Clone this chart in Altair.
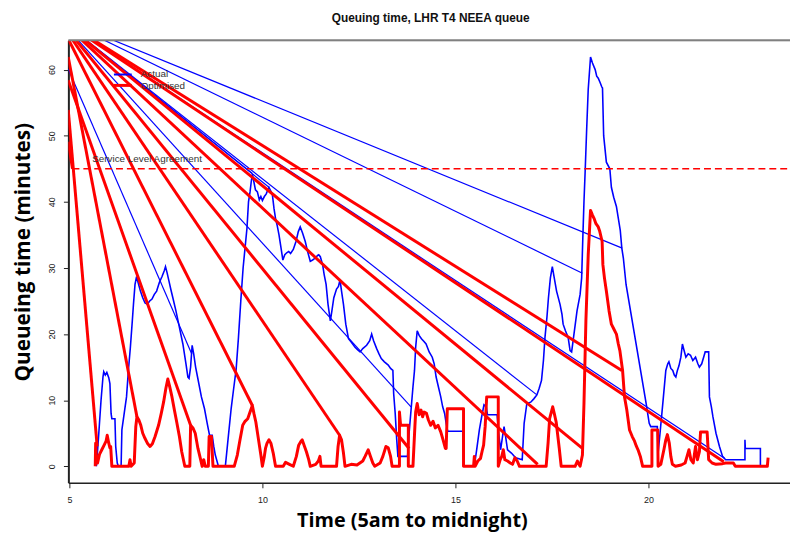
import altair as alt
import pandas as pd

# ---------------- data ----------------
act_x = [5.70,5.75,5.82,5.87,5.89,5.93,5.97,6.02,6.05,6.08,6.10,6.18,6.20,6.24,6.27,6.34,6.36,6.42,6.48,6.53,
         6.58,6.63,6.66,6.70,6.74,6.78,6.84,6.90,6.96,7.02,7.08,7.14,7.20,7.26,7.33,7.40,7.46,7.49,7.53,7.58,
         7.63,7.68,7.76,7.85,7.94,8.02,8.07,8.10,8.14,8.18,8.22,8.27,8.33,8.42,8.50,8.57,8.63,8.70,8.74,8.78,
         8.86,9.04,9.10,9.19,9.25,9.32,9.38,9.44,9.50,9.55,9.60,9.64,9.68,9.71,9.74,9.78,9.82,9.87,9.92,9.96,
         10.00,10.05,10.10,10.14,10.17,10.22,10.26,10.30,10.34,10.38,10.43,10.47,10.53,10.58,10.63,10.68,10.73,10.80,10.87,10.93,
         10.98,11.04,11.11,11.17,11.24,11.30,11.37,11.43,11.46,11.50,11.56,11.60,11.65,11.70,11.76,11.80,11.85,11.92,11.97,12.01,
         12.05,12.10,12.16,12.23,12.30,12.40,12.47,12.53,12.60,12.70,12.78,12.83,12.88,12.96,13.02,13.08,13.16,13.26,13.32,13.38,
         13.40,13.44,13.48,13.51,13.76,13.80,13.85,13.90,13.94,13.97,14.01,14.06,14.12,14.18,14.24,14.32,14.40,14.45,14.50,14.56,
         14.62,14.67,14.72,14.76,14.80,15.19,15.21,15.49,15.55,15.62,15.68,15.74,15.80,15.83,16.08,16.12,16.17,16.22,16.26,16.30,
         16.35,16.45,16.56,16.73,16.78,16.85,16.95,17.03,17.11,17.17,17.23,17.28,17.32,17.37,17.41,17.46,17.51,17.56,17.62,17.71,
         17.76,17.79,17.85,17.92,17.97,18.01,18.06,18.15,18.23,18.27,18.30,18.33,18.36,18.40,18.44,18.50,18.55,18.62,18.66,18.70,
         18.75,18.79,18.81,18.84,18.91,19.00,19.04,19.10,19.17,19.27,19.31,19.35,19.42,19.55,19.68,19.81,19.94,20.02,20.06,20.23,
         20.25,20.30,20.38,20.45,20.50,20.53,20.58,20.63,20.67,20.71,20.75,20.79,20.84,20.88,20.92,20.97,21.03,21.09,21.15,21.22,
         21.28,21.32,21.38,21.43,21.47,21.56,21.58,21.63,21.67,21.75,21.84,21.92,22.00,22.48,22.50,22.50,22.51,22.90,22.90]
act_y = [0,4,10,13.5,14.3,13.8,14.2,13.4,12.5,8,7.2,7.2,3,0.5,0,0,5.5,8,10.5,14.6,
         18,22,24.5,27.5,28.7,27.8,26.5,25.5,24.7,24.5,25,25.3,26,26.5,27.8,28.7,29.6,30.2,29.3,28,
         26.7,25.5,23.5,21,18.5,15.5,13.5,13.3,15,18.3,17,15,13.2,10.5,8.7,6.5,4.7,4.7,3,1.7,
         0,0,3.5,8.7,11.5,14.7,19.5,25,30,33,36,40,41.5,43,44.2,43,41.8,41.5,40.3,40.8,
         40.2,40.8,41.2,41.8,42.2,41.6,41,39,37.5,36.5,35,33.5,31.2,32,32.3,32.5,32.2,32.8,34,35.5,
         36.2,35.3,34,32.5,31,31.2,31.5,31.9,32,31.7,30.5,29,27.5,24.5,22,23.5,25.5,26.8,27.2,28.2,
         26.5,24.5,21.5,19.3,18.8,18,17.6,17.3,17.8,18.3,19,20,19,17.8,17,16.3,15.8,15.3,14.8,14.5,
         11,8,4,1.5,1.5,5,8.5,12,14.5,18,20.5,19.8,19.3,18.9,18.5,17.3,16.5,15.5,13.5,12,
         10.5,9,8,6.5,5.3,5.3,0,0,2.5,5.5,7.5,9.3,9,7.8,7.8,5,2.5,4.5,6,4.5,
         2.5,2,1.3,1,6.5,9.5,9.7,10.2,10.8,11.8,13,16,19.5,22.5,25.5,28.5,30.2,28.5,26.5,24.5,
         23,21.5,20.5,19.5,17.5,17.3,19.5,23.5,26,28.5,34.5,40,44.5,51,57,61.9,61,60,59,58.7,
         58,57.4,57.2,50,46,45,42.2,40.7,39.3,35.7,33,31.5,27.5,23,18.5,14,9.5,6.5,6,6,
         2,5,10,14.5,15.5,15.8,14.8,14.5,13.8,13.5,14.5,15.2,16.5,18.5,17.6,16.5,17,16.8,16,16.5,
         15.5,15,15.5,16.5,17.3,17.3,10.5,9,7.5,5,3,1.5,1,1,1,4,2.7,2.7,0]

opt_x = [5.67,5.68,5.70,5.73,5.78,5.84,5.90,5.95,5.98,6.02,6.05,6.07,6.10,6.54,6.57,6.60,6.68,6.72,6.75,6.80,
         6.85,6.90,6.96,7.03,7.09,7.15,7.22,7.31,7.38,7.44,7.50,7.55,7.60,7.65,7.72,7.78,7.85,7.91,7.99,8.12,
         8.14,8.20,8.26,8.33,8.40,8.44,8.48,8.52,8.60,8.62,8.68,8.72,9.27,9.35,9.42,9.49,9.55,9.62,9.68,9.74,
         9.78,9.83,9.90,9.96,10.00,10.05,10.08,10.12,10.17,10.22,10.28,10.34,10.54,10.60,10.70,10.80,10.88,10.94,11.00,11.03,
         11.08,11.14,11.20,11.24,11.38,11.45,11.49,11.52,11.92,11.96,12.00,12.05,12.10,12.14,12.30,12.45,12.60,12.66,12.74,12.80,
         12.86,12.91,13.05,13.12,13.20,13.26,13.32,13.36,13.55,13.55,13.58,13.78,13.78,13.90,13.95,13.97,14.01,14.06,14.11,14.15,
         14.19,14.25,14.30,14.36,14.42,14.48,14.55,14.62,14.68,14.74,14.76,14.79,15.21,15.21,15.47,15.49,15.51,15.58,15.65,15.70,
         15.73,15.77,15.81,16.11,16.11,16.16,16.20,16.24,16.28,16.35,16.42,16.48,16.54,16.60,16.66,17.35,17.40,17.44,17.52,17.56,
         17.61,17.69,17.74,18.10,18.16,18.20,18.23,18.29,18.33,18.38,18.44,18.50,18.55,18.59,18.64,18.70,18.74,18.80,18.82,18.86,
         18.91,18.98,19.04,19.10,19.17,19.22,19.26,19.33,19.38,19.44,19.51,19.58,19.64,19.69,19.73,19.79,19.85,20.09,20.09,20.24,
         20.25,20.32,20.40,20.45,20.49,20.54,20.58,20.62,20.70,20.85,20.95,21.00,21.05,21.10,21.16,21.22,21.27,21.32,21.35,21.52,
         21.56,21.65,21.75,21.92,22.00,22.20,22.25,23.08,23.10]
opt_y = [0,3.5,1,0.5,1.8,2.5,3.2,3.8,4.7,3.5,2.8,3,0,0,1,0,0.5,6,7.5,7,
         6.2,5,4.2,3.4,3,3.4,4.5,6.2,8,9.7,11.8,13.2,12,10.7,8.5,6.7,4.5,2.2,0,0,
         6.2,5.8,5,2.7,1,0,1,0,0,4.5,4.5,0,0,1.7,4,6.2,6.8,7.2,8.2,9.2,
         8,6.7,4,1.7,0,1.5,2.7,3.5,4,3.5,2,0,0,0.6,0.3,0,1.5,3.2,3.8,4,
         3.2,2.2,1,0,0.3,0.8,1.5,0,0,3,4.7,4,2,0,0.3,0.2,0.8,1.5,2.5,1.5,
         0.5,0,0.5,1.5,3,2.8,1.5,0,0,8.2,6.2,6.2,0,0,6,8.2,9.5,7.8,8.5,7.5,
         8.2,8,7,6.2,6.8,5.8,6.2,5.2,4,2.7,2.7,8.7,8.7,0,0,1.5,0,0.8,1.2,2.5,
         3.2,6,10.5,10.5,0,1,1.5,2.5,1,0.8,0.5,0.3,1.3,0.8,0,0,3.5,7.2,9,8,
         6.7,2.7,0,0,0.8,0.3,0,1.7,9.5,22,32,38.7,38,37.5,36.7,36.2,35.5,34,30.5,28.5,
         26.5,23.5,21.5,20.8,20,18.5,17.5,14.5,10.5,8.5,5.5,4.5,3.8,3,2.5,1.5,0,0,5.5,5.5,
         0,0.3,2.5,4,4.8,3.5,1.5,0.3,0,0.2,0.5,1.5,2.5,1,0.5,3,1,2.2,5.2,5.2,
         1,0.5,0.3,0.4,0.5,0.5,0,0,1.3]

# stray straight segments: start point (off the plot / on its border) -> end point on the curve
act_seg_x0 = [4.69, 4.69, 4.69, 4.69, 4.97, 4.69, 4.69, 4.69]
act_seg_y0 = [67.9, 67.9, 67.9, 67.9, 60.1, 67.9, 67.9, 67.9]
act_seg_x1 = [19.32, 18.29, 9.74, 10.17, 8.17, 13.85, 17.11, 21.97]
act_seg_y1 = [33.0, 29.2, 44.3, 42.2, 17.0, 9.0, 10.8, 1.2]

opt_seg_x0 = [4.69, 4.69, 4.69, 4.69, 4.69, 4.69, 4.97, 4.97, 4.69, 4.97, 4.97]
opt_seg_y0 = [67.9, 67.9, 67.9, 67.9, 67.9, 67.9, 61.9, 58.4, 67.9, 53.9, 49.1]
opt_seg_x1 = [19.31, 21.95, 18.29, 17.13, 13.80, 12.00, 6.75, 8.14, 9.74, 5.72, 5.08]
opt_seg_y1 = [14.5, 0.7, 2.7, 0.3, 2.7, 4.7, 7.5, 6.2, 9.2, 3.0, 45.0]

sla_value = 45
x_ticks = [5, 10, 15, 20]
y_ticks = [0, 10, 20, 30, 40, 50, 60]
x_domain = [4.974, 23.667]
y_domain = [-2.5, 64.42]

title_text = "Queuing time, LHR T4 NEEA queue"
x_title = "Time (5am to midnight)"
y_title = "Queueing time (minutes)"
legend_labels = ["Actual", "Optimised"]
sla_label = "Service Level Agreement"

BLUE = "#0000ff"
RED = "#ff0000"
W, H = 729, 447

# ---------------- build ----------------
act = pd.DataFrame({"x": act_x, "y": act_y, "i": range(len(act_x))})
opt = pd.DataFrame({"x": opt_x, "y": opt_y, "i": range(len(opt_x))})
act_seg = pd.DataFrame({"x": act_seg_x0, "y": act_seg_y0, "x2": act_seg_x1, "y2": act_seg_y1})
opt_seg = pd.DataFrame({"x": opt_seg_x0, "y": opt_seg_y0, "x2": opt_seg_x1, "y2": opt_seg_y1})

xs = alt.Scale(domain=x_domain, nice=False, zero=False)
ys = alt.Scale(domain=y_domain, nice=False, zero=False)

x_axis = alt.Axis(values=x_ticks, title=None, grid=False, labelFontSize=9, labelFont="Liberation Sans",
                  labelColor="#222", tickColor="#222", tickSize=5, domainColor="#222", domainWidth=1.5,
                  labelPadding=8, labelFlush=False)
y_axis = alt.Axis(values=y_ticks, title=None, grid=False, labelFontSize=9, labelFont="Liberation Sans",
                  labelColor="#222", tickColor="#222", tickSize=5, domainColor="#222", domainWidth=2,
                  labelAngle=270, labelAlign="center", labelBaseline="bottom", labelPadding=7)

base_x = alt.X("x:Q", scale=xs, axis=x_axis)
base_y = alt.Y("y:Q", scale=ys, axis=y_axis)

act_line = alt.Chart(act).mark_line(color=BLUE, strokeWidth=1.6, clip=True).encode(
    x=base_x, y=base_y, order="i:Q")
act_rules = alt.Chart(act_seg).mark_rule(color=BLUE, strokeWidth=1.2, clip=True).encode(
    x=alt.X("x:Q", scale=xs), y=alt.Y("y:Q", scale=ys), x2="x2:Q", y2="y2:Q")
opt_line = alt.Chart(opt).mark_line(color=RED, strokeWidth=3, clip=True, strokeJoin="round").encode(
    x=alt.X("x:Q", scale=xs), y=alt.Y("y:Q", scale=ys), order="i:Q")
opt_rules = alt.Chart(opt_seg).mark_rule(color=RED, strokeWidth=3, clip=True).encode(
    x=alt.X("x:Q", scale=xs), y=alt.Y("y:Q", scale=ys), x2="x2:Q", y2="y2:Q")

sla_df = pd.DataFrame({"x": [5.08], "x2": [x_domain[1]], "y": [sla_value]})
sla = alt.Chart(sla_df).mark_rule(color=RED, strokeWidth=1.5, strokeDash=[7, 4], clip=True).encode(
    x=alt.X("x:Q", scale=xs), x2="x2:Q", y=alt.Y("y:Q", scale=ys))
sla_txt = alt.Chart(pd.DataFrame({"t": [sla_label]})).mark_text(
    align="left", baseline="middle", font="Liberation Sans", fontSize=10, color="#333").encode(
    x=alt.value(24), y=alt.value(120), text="t:N")

top_line = alt.Chart(pd.DataFrame({"a": [0]})).mark_rule(color="#808080", strokeWidth=2).encode(
    x=alt.value(0), x2=alt.value(W), y=alt.value(0))

leg_blue = alt.Chart(pd.DataFrame({"a": [0]})).mark_rule(color=BLUE, strokeWidth=2).encode(
    x=alt.value(46), x2=alt.value(64), y=alt.value(34.5))
leg_red = alt.Chart(pd.DataFrame({"a": [0]})).mark_rule(color=RED, strokeWidth=3).encode(
    x=alt.value(46), x2=alt.value(64), y=alt.value(45.5))
leg_t1 = alt.Chart(pd.DataFrame({"t": [legend_labels[0]]})).mark_text(
    align="left", baseline="middle", font="Liberation Sans", fontSize=10, color="#333").encode(
    x=alt.value(73), y=alt.value(34.5), text="t:N")
leg_t2 = alt.Chart(pd.DataFrame({"t": [legend_labels[1]]})).mark_text(
    align="left", baseline="middle", font="Liberation Sans", fontSize=10, color="#333").encode(
    x=alt.value(73), y=alt.value(46), text="t:N")

ttl = alt.Chart(pd.DataFrame({"t": [title_text]})).mark_text(
    align="center", baseline="alphabetic", font="Liberation Sans", fontSize=12, fontWeight="bold",
    color="#111").encode(x=alt.value(366), y=alt.value(-19), text="t:N")
xt = alt.Chart(pd.DataFrame({"t": [x_title]})).mark_text(
    align="center", baseline="alphabetic", font="Open Sans", fontSize=20, fontWeight="bold",
    color="#000").encode(x=alt.value(347.5), y=alt.value(491.5), text="t:N")
yt = alt.Chart(pd.DataFrame({"t": [y_title]})).mark_text(
    align="center", baseline="alphabetic", font="Open Sans", fontSize=21, fontWeight="bold",
    color="#000", angle=270).encode(x=alt.value(-39), y=alt.value(214), text="t:N")

chart = alt.layer(act_line, act_rules, opt_line, opt_rules, sla, sla_txt, top_line,
                  leg_blue, leg_red, leg_t1, leg_t2, ttl, xt, yt).properties(
    width=W, height=H,
    padding={"left": 61, "top": 30, "right": 0, "bottom": 49},
    autosize=alt.AutoSizeParams(type="none"),
).configure_view(stroke=None).configure(background="white")

chart.save("out.html", embed_options={"renderer": "svg", "actions": False})
